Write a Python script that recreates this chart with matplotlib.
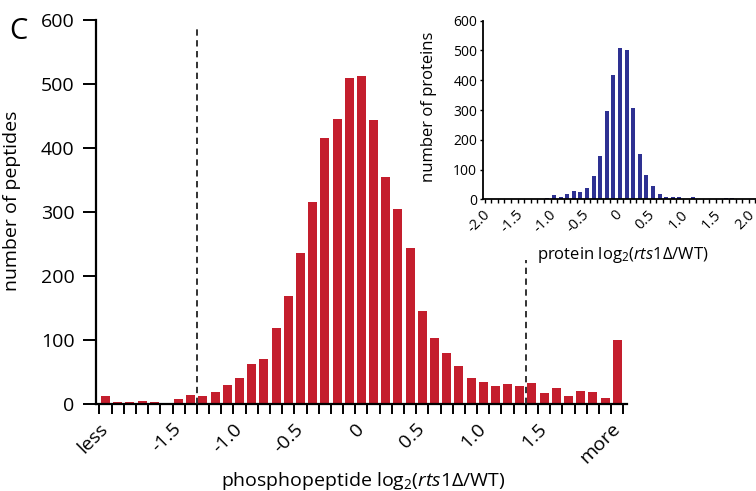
import numpy as np
import matplotlib
matplotlib.use("Agg")
import matplotlib.pyplot as plt

plt.rcParams['font.family'] = ['Open Sans', 'DejaVu Sans']
plt.rcParams['mathtext.fontset'] = 'custom'
plt.rcParams['mathtext.rm'] = 'Open Sans'
plt.rcParams['mathtext.it'] = 'Open Sans:italic'
plt.rcParams['axes.unicode_minus'] = False

# main histogram: "less", bins -2.0 .. 2.0 (step 0.1), "more"
peptide_counts = [13, 3, 3, 5, 3, 2, 8, 14, 12, 19, 29, 40, 62, 70, 118, 169,
                  236, 316, 415, 445, 509, 513, 444, 355, 305, 244, 145, 103,
                  79, 59, 41, 34, 28, 32, 28, 33, 17, 25, 12, 21, 18, 10, 100]
peptide_tick_bins = [0, 6, 11, 16, 21, 26, 31, 36, 42]
peptide_tick_labels = ['less', '-1.5', '-1.0', '-0.5', '0', '0.5', '1.0', '1.5', 'more']
cutoff = 1.35

# inset histogram of protein ratios
protein_bins = [-2.0, -1.9, -1.8, -1.7, -1.6, -1.5, -1.4, -1.3, -1.2, -1.1,
                -1.0, -0.9, -0.8, -0.7, -0.6, -0.5, -0.4, -0.3, -0.2, -0.1,
                0.0, 0.1, 0.2, 0.3, 0.4, 0.5, 0.6, 0.7, 0.8, 0.9,
                1.0, 1.1, 1.2, 1.3, 1.4, 1.5, 1.6, 1.7, 1.8, 1.9, 2.0]
protein_counts = [0, 1, 2, 1, 2, 1, 2, 1, 2, 5,
                  13, 8, 19, 29, 25, 39, 78, 147, 295, 418,
                  507, 500, 308, 151, 82, 45, 17, 8, 7, 9,
                  2, 7, 2, 1, 2, 2, 3, 3, 1, 1, 2]
protein_ticks = [-2.0, -1.5, -1.0, -0.5, 0.0, 0.5, 1.0, 1.5, 2.0]
protein_tick_labels = ['-2.0', '-1.5', '-1.0', '-0.5', '0', '0.5', '1.0', '1.5', '2.0']

red = '#C41E2D'
blue = '#2E3192'

fig = plt.figure(figsize=(7.56, 4.91), dpi=100)

# ---- main panel ----
ax = fig.add_axes([0.127, 0.1772, 0.703, 0.7821])
xpos = np.arange(len(peptide_counts))
ax.bar(xpos, peptide_counts, width=0.74, color=red, zorder=2)
ax.set_xlim(-0.78, 42.84)
ax.set_ylim(0, 600)
for s in ['top', 'right']:
    ax.spines[s].set_visible(False)
for s in ['left', 'bottom']:
    ax.spines[s].set_linewidth(1.6)

ax.set_yticks(range(0, 700, 100))
ax.tick_params(axis='y', length=9.5, width=1.4, pad=6, labelsize=14)
ax.set_xticks(peptide_tick_bins)
ax.set_xticklabels(peptide_tick_labels)
ax.set_xticks(np.arange(-0.5, len(peptide_counts) + 0.5, 1), minor=True)
ax.tick_params(axis='x', which='major', length=0, pad=16, labelsize=14)
ax.tick_params(axis='x', which='minor', length=7, width=1.4)
for lab in ax.get_xticklabels():
    lab.set_rotation(45)
    lab.set_ha('right')
    lab.set_va('center')
    lab.set_rotation_mode('anchor')

# cutoff lines (bin index = 21 + 10 * log2 ratio)
ax.plot([21 - cutoff * 10] * 2, [0, 592], ls=(0, (3.5, 2.5)), color='#222222', lw=1.3, zorder=3)
ax.plot([21 + cutoff * 10] * 2, [0, 225], ls=(0, (3.5, 2.5)), color='#222222', lw=1.3, zorder=3)

ax.set_ylabel('number of peptides', fontsize=14)
ax.yaxis.set_label_coords(-0.141, 0.53)
ax.set_xlabel(r'phosphopeptide log$_\mathregular{2}$($\mathit{rts1}$Δ/WT)', fontsize=14)
ax.xaxis.set_label_coords(0.502, -0.172)

fig.text(0.012, 0.965, 'C', fontsize=21, va='top', ha='left')

# ---- inset ----
axin = fig.add_axes([0.6385, 0.5941, 0.3667, 0.3637])
axin.bar(protein_bins, protein_counts, width=0.058, color=blue)
axin.set_xlim(-2.08, 2.12)
axin.set_ylim(0, 600)
for s in ['top', 'right']:
    axin.spines[s].set_visible(False)
for s in ['left', 'bottom']:
    axin.spines[s].set_linewidth(1.3)
axin.set_yticks(range(0, 700, 100))
axin.tick_params(axis='y', length=2, width=1, pad=2, labelsize=10)
axin.set_xticks(protein_ticks)
axin.set_xticklabels(protein_tick_labels)
axin.set_xticks(np.arange(-2.05, 2.1, 0.1), minor=True)
axin.tick_params(axis='x', which='major', length=0, pad=9.5, labelsize=10.5)
axin.tick_params(axis='x', which='minor', length=3, width=1)
for lab in axin.get_xticklabels():
    lab.set_rotation(45)
    lab.set_ha('right')
    lab.set_va('center')
    lab.set_rotation_mode('anchor')
axin.set_ylabel('number of proteins', fontsize=12)
axin.yaxis.set_label_coords(-0.165, 0.517)
axin.set_xlabel(r'protein log$_\mathregular{2}$($\mathit{rts1}$Δ/WT)', fontsize=12)
axin.xaxis.set_label_coords(0.506, -0.256)

fig.savefig('out.png', dpi=100)
